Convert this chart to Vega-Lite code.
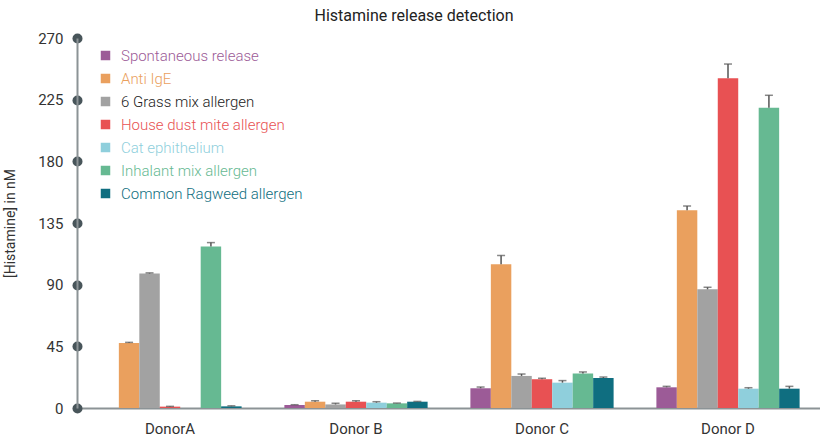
{
  "$schema": "https://vega.github.io/schema/vega-lite/v6.json",
  "width": 744,
  "height": 370,
  "autosize": {"type": "none"},
  "padding": {"left": 77, "top": 38, "right": 0, "bottom": 31},
  "background": "white",
  "config": {
    "font": "Roboto",
    "view": {"stroke": null}
  },
  "title": {
    "text": "Histamine release detection",
    "fontSize": 16,
    "fontWeight": "normal",
    "color": "#222222",
    "font": "Roboto",
    "anchor": "middle",
    "frame": "group",
    "dx": -35,
    "offset": 7
  },
  "data": {
    "values": [
      {"donor": "DonorA", "series": "Spontaneous release", "value": 0, "err": null},
      {"donor": "DonorA", "series": "Anti IgE", "value": 47.4, "err": 47.9},
      {"donor": "DonorA", "series": "6 Grass mix allergen", "value": 98.1, "err": 98.6},
      {"donor": "DonorA", "series": "House dust mite allergen", "value": 1.0, "err": 1.2},
      {"donor": "DonorA", "series": "Cat ephithelium", "value": 0, "err": null},
      {"donor": "DonorA", "series": "Inhalant mix allergen", "value": 117.8, "err": 120.7},
      {"donor": "DonorA", "series": "Common Ragweed allergen", "value": 1.2, "err": 1.6},
      {"donor": "Donor B", "series": "Spontaneous release", "value": 2.2, "err": 2.4},
      {"donor": "Donor B", "series": "Anti IgE", "value": 4.6, "err": 5.3},
      {"donor": "Donor B", "series": "6 Grass mix allergen", "value": 2.6, "err": 3.4},
      {"donor": "Donor B", "series": "House dust mite allergen", "value": 4.6, "err": 5.3},
      {"donor": "Donor B", "series": "Cat ephithelium", "value": 3.9, "err": 4.6},
      {"donor": "Donor B", "series": "Inhalant mix allergen", "value": 3.4, "err": 3.6},
      {"donor": "Donor B", "series": "Common Ragweed allergen", "value": 4.6, "err": 4.8},
      {"donor": "Donor C", "series": "Spontaneous release", "value": 14.4, "err": 15.3},
      {"donor": "Donor C", "series": "Anti IgE", "value": 104.9, "err": 111.3},
      {"donor": "Donor C", "series": "6 Grass mix allergen", "value": 23.4, "err": 24.8},
      {"donor": "Donor C", "series": "House dust mite allergen", "value": 21.0, "err": 21.7},
      {"donor": "Donor C", "series": "Cat ephithelium", "value": 18.5, "err": 20.0},
      {"donor": "Donor C", "series": "Inhalant mix allergen", "value": 25.1, "err": 26.3},
      {"donor": "Donor C", "series": "Common Ragweed allergen", "value": 21.9, "err": 22.6},
      {"donor": "Donor D", "series": "Spontaneous release", "value": 15.1, "err": 15.8},
      {"donor": "Donor D", "series": "Anti IgE", "value": 144.3, "err": 147.4},
      {"donor": "Donor D", "series": "6 Grass mix allergen", "value": 86.6, "err": 88.1},
      {"donor": "Donor D", "series": "House dust mite allergen", "value": 240.6, "err": 251.0},
      {"donor": "Donor D", "series": "Cat ephithelium", "value": 14.1, "err": 14.8},
      {"donor": "Donor D", "series": "Inhalant mix allergen", "value": 219.1, "err": 228.2},
      {"donor": "Donor D", "series": "Common Ragweed allergen", "value": 14.1, "err": 15.8}
    ]
  },
  "encoding": {
    "x": {
      "field": "donor",
      "type": "nominal",
      "sort": ["DonorA", "Donor B", "Donor C", "Donor D"],
      "scale": {"paddingInner": 0.23, "paddingOuter": 0.115},
      "axis": {
        "title": null,
        "labelAngle": 0,
        "ticks": false,
        "labelPadding": 13,
        "labelFontSize": 15,
        "labelColor": "#333333",
        "labelFont": "Roboto",
        "domainColor": "#8c9396",
        "domainWidth": 2
      }
    },
    "xOffset": {
      "field": "series",
      "type": "nominal",
      "sort": ["Spontaneous release", "Anti IgE", "6 Grass mix allergen", "House dust mite allergen", "Cat ephithelium", "Inhalant mix allergen", "Common Ragweed allergen"],
      "scale": {"paddingInner": 0, "paddingOuter": 0}
    }
  },
  "layer": [
    {
      "mark": {"type": "bar"},
      "encoding": {
        "y": {
          "field": "value",
          "type": "quantitative",
          "scale": {"domain": [0, 270], "nice": false},
          "axis": {
            "title": "[Histamine] in nM",
            "titleFontSize": 14,
            "titleFontWeight": "normal",
            "titleColor": "#333333",
            "titleFont": "Roboto",
            "titlePadding": 20,
            "values": [0, 45, 90, 135, 180, 225, 270],
            "grid": false,
            "domainColor": "#8c9396",
            "domainWidth": 2,
            "tickColor": "#48555a",
            "tickWidth": 10,
            "tickSize": 0.01,
            "tickCap": "round",
            "labelPadding": 14,
            "labelFontSize": 15,
            "labelColor": "#333333",
            "labelFont": "Roboto"
          }
        },
        "color": {
          "field": "series",
          "type": "nominal",
          "sort": ["Spontaneous release", "Anti IgE", "6 Grass mix allergen", "House dust mite allergen", "Cat ephithelium", "Inhalant mix allergen", "Common Ragweed allergen"],
          "scale": {
            "domain": ["Spontaneous release", "Anti IgE", "6 Grass mix allergen", "House dust mite allergen", "Cat ephithelium", "Inhalant mix allergen", "Common Ragweed allergen"],
            "range": ["#9c5b97", "#eaa05e", "#a2a2a2", "#e85153", "#8fcfdc", "#66b992", "#0f6e80"]
          },
          "legend": {
            "title": null,
            "orient": "none",
            "legendX": 21,
            "legendY": 10,
            "padding": 0,
            "symbolType": "square",
            "symbolSize": 90,
            "symbolStrokeWidth": 0,
            "labelFontSize": 15,
            "labelFont": "Roboto",
            "labelFontWeight": 300,
            "labelOffset": 8,
            "rowPadding": 7,
            "labelLimit": 300,
            "labelColor": {"expr": "datum.value === '6 Grass mix allergen' ? '#222222' : scale('color', datum.value)"}
          }
        }
      }
    },
    {
      "transform": [{"filter": "datum.err != null"}],
      "mark": {"type": "rule", "color": "#555555", "strokeWidth": 1.5},
      "encoding": {
        "y": {"field": "value", "type": "quantitative"},
        "y2": {"field": "err"}
      }
    },
    {
      "transform": [{"filter": "datum.err != null"}],
      "mark": {"type": "tick", "color": "#555555", "thickness": 1.5, "size": 8, "orient": "horizontal"},
      "encoding": {
        "y": {"field": "err", "type": "quantitative"}
      }
    }
  ]
}
